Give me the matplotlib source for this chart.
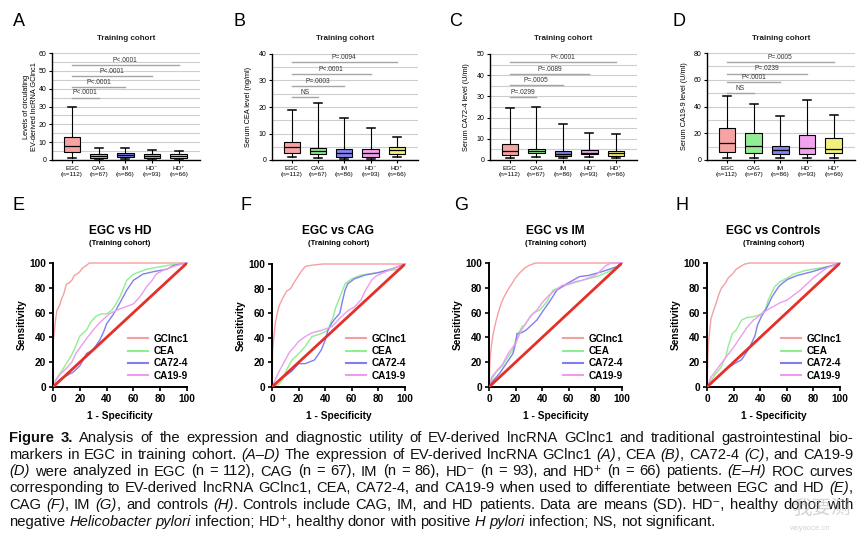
import matplotlib.pyplot as plt
import numpy as np

plt.rcParams['font.family'] = ['Liberation Sans', 'DejaVu Sans']

W, H = 866, 537
fig = plt.figure(figsize=(W / 100, H / 100), dpi=100)

# ---------------- data ----------------
groups = ['EGC\n(n=112)', 'CAG\n(n=67)', 'IM\n(n=86)', 'HD⁻\n(n=93)', 'HD⁺\n(n=66)']
box_colors = ['#f5a3a3', '#93ee93', '#8282f0', '#f2a2ee', '#f0f07e']

# whisker low, Q1, median, Q3, whisker high
gclnc1_box = [[0.9, 4.7, 8.1, 13.1, 29.5],
              [0.5, 1.4, 2.5, 3.4, 7.0],
              [0.6, 1.6, 2.6, 3.8, 6.6],
              [0.5, 1.3, 2.3, 3.5, 5.6],
              [0.5, 1.1, 2.0, 3.2, 5.3]]
cea_box = [[1.3, 2.8, 5.0, 6.7, 18.9],
           [0.6, 2.3, 3.5, 4.4, 21.4],
           [0.3, 1.3, 2.8, 4.0, 15.8],
           [0.4, 1.3, 2.8, 4.2, 12.2],
           [1.3, 2.3, 3.8, 4.8, 8.8]]
ca724_box = [[0.8, 2.4, 4.4, 7.5, 24.4],
             [1.3, 3.1, 4.2, 5.2, 25.2],
             [0.8, 2.0, 2.8, 4.4, 17.0],
             [1.3, 2.7, 3.5, 4.7, 12.9],
             [0.8, 2.0, 3.1, 4.4, 12.3]]
ca199_box = [[1.3, 6.3, 12.5, 24.0, 48.0],
             [1.3, 5.0, 10.5, 20.5, 42.0],
             [1.3, 4.5, 7.5, 10.5, 33.0],
             [1.3, 4.5, 9.3, 19.0, 44.5],
             [1.3, 5.0, 8.0, 16.5, 34.0]]

# (label, compared group index, bar height)
gclnc1_sig = [('P<.0001', 1, 35), ('P<.0001', 2, 41), ('P<.0001', 3, 47), ('P<.0001', 4, 53)]
cea_sig = [('NS', 1, 23.8), ('P=.0003', 2, 28), ('P<.0001', 3, 32.3), ('P=.0094', 4, 36.8)]
ca724_sig = [('P=.0299', 1, 29.5), ('P=.0005', 2, 35.4), ('P=.0089', 3, 40.6), ('P<.0001', 4, 46)]
ca199_sig = [('NS', 1, 50), ('P<.0001', 2, 58), ('P=.0239', 3, 64.5), ('P=.0005', 4, 73)]

roc_names = ['GClnc1', 'CEA', 'CA72-4', 'CA19-9']
roc_colors = ['#f5a0a0', '#90ee90', '#7f7ff2', '#ee9cee']

# ROC curves: 1 - specificity (%), sensitivity (%)
hd_gclnc1_x = [0, 0, 1, 2, 3, 5, 6, 8, 10, 12, 14, 16, 19, 20, 22, 25, 27, 100]
hd_gclnc1_y = [0, 35, 45, 55, 62, 66, 70, 75, 83, 84, 86, 90, 92, 93, 96, 98, 100, 100]
hd_cea_x = [0, 2, 6, 10, 14, 17, 20, 25, 28, 32, 36, 40, 44, 47, 50, 52, 55, 60, 65, 70, 85, 100]
hd_cea_y = [0, 6, 12, 19, 26, 33, 41, 46, 52, 57, 59, 59, 62, 67, 73, 78, 86, 91, 93, 95, 98, 100]
hd_ca724_x = [0, 5, 10, 15, 20, 25, 30, 35, 38, 40, 44, 47, 51, 55, 60, 67, 75, 85, 90, 100]
hd_ca724_y = [0, 6, 9, 12, 17, 27, 30, 38, 45, 51, 57, 62, 70, 78, 86, 91, 93, 95, 98, 100]
hd_ca199_x = [0, 2, 5, 10, 14, 17, 21, 25, 30, 35, 42, 50, 60, 65, 70, 74, 77, 82, 87, 92, 100]
hd_ca199_y = [0, 5, 10, 15, 20, 27, 33, 39, 46, 52, 59, 63, 67, 73, 81, 86, 91, 94, 96, 98, 100]

cag_gclnc1_x = [0, 0.5, 1.5, 2.5, 4, 5, 7.5, 9, 11, 14, 16, 19, 22, 25, 30, 38, 100]
cag_gclnc1_y = [0, 30, 42, 52, 60, 65, 71, 74, 78, 80, 84, 89, 94, 98, 99, 100, 100]
cag_cea_x = [0, 5, 8, 11, 15, 20, 25, 30, 36, 42, 44, 46, 48, 51, 55, 60, 67, 80, 90, 97, 100]
cag_cea_y = [0, 2, 6, 14, 22, 27, 33, 41, 43, 46, 52, 57, 65, 73, 84, 88, 91, 93, 95, 96, 100]
cag_ca724_x = [0, 5, 10, 15, 20, 25, 32, 37, 40, 42, 45, 47, 51, 53, 55, 57, 62, 70, 80, 90, 100]
cag_ca724_y = [0, 5, 9, 13, 19, 19, 22, 30, 38, 46, 52, 55, 60, 70, 79, 84, 88, 91, 93, 96, 100]
cag_ca199_x = [0, 5, 10, 13, 17, 20, 25, 30, 37, 45, 52, 57, 62, 67, 70, 75, 78, 82, 88, 100]
cag_ca199_y = [0, 12, 22, 28, 33, 37, 41, 44, 46, 49, 57, 62, 65, 71, 78, 87, 90, 92, 95, 100]

im_gclnc1_x = [0, 0.5, 1, 2, 3, 5, 7, 9, 11, 14, 17, 20, 23, 27, 30, 35, 100]
im_gclnc1_y = [0, 15, 25, 35, 42, 52, 60, 67, 72, 78, 83, 88, 92, 96, 98, 100, 100]
im_cea_x = [0, 3, 6, 10, 14, 18, 20, 23, 25, 27, 31, 34, 38, 43, 48, 55, 61, 70, 81, 90, 96, 100]
im_cea_y = [0, 8, 13, 17, 24, 30, 38, 45, 49, 50, 57, 60, 62, 68, 78, 81, 83, 86, 89, 93, 97, 100]
im_ca724_x = [0, 3, 8, 13, 18, 20, 21, 25, 28, 32, 36, 41, 45, 51, 58, 63, 68, 75, 85, 96, 100]
im_ca724_y = [0, 5, 11, 19, 27, 35, 43, 44, 46, 50, 54, 62, 68, 78, 83, 86, 89, 90, 93, 97, 100]
im_ca199_x = [0, 2, 5, 10, 15, 20, 24, 28, 32, 36, 40, 45, 50, 55, 60, 65, 70, 75, 80, 85, 88, 92, 100]
im_ca199_y = [0, 8, 12, 18, 28, 35, 45, 52, 58, 62, 68, 74, 78, 82, 83, 85, 86, 88, 90, 95, 98, 100, 100]

ctl_gclnc1_x = [0, 0.5, 1, 2, 3, 5, 7, 9, 11, 14, 16, 19, 22, 25, 28, 32, 100]
ctl_gclnc1_y = [0, 20, 35, 45, 55, 62, 68, 75, 80, 84, 88, 91, 95, 97, 99, 100, 100]
ctl_cea_x = [0, 3, 6, 10, 14, 16, 19, 22, 26, 30, 36, 41, 44, 46, 49, 51, 55, 59, 65, 74, 85, 96, 100]
ctl_cea_y = [0, 5, 10, 15, 24, 33, 43, 46, 54, 56, 57, 59, 63, 70, 77, 81, 85, 87, 91, 94, 96, 98, 100]
ctl_ca724_x = [0, 5, 10, 15, 21, 26, 31, 36, 38, 41, 45, 49, 54, 57, 61, 68, 79, 88, 100]
ctl_ca724_y = [0, 5, 10, 15, 19, 22, 30, 41, 50, 57, 64, 73, 81, 84, 87, 90, 93, 96, 100]
ctl_ca199_x = [0, 3, 6, 10, 15, 20, 25, 30, 35, 40, 45, 50, 55, 60, 65, 70, 75, 80, 85, 90, 95, 100]
ctl_ca199_y = [0, 8, 12, 18, 25, 32, 40, 48, 54, 58, 62, 65, 68, 70, 74, 78, 83, 88, 92, 96, 98, 100]

caption = [
    [('Figure 3.', 'b'), (' Analysis of the expression and diagnostic utility of EV-derived lncRNA GClnc1 and traditional gastrointestinal bio-', 'n')],
    [('markers in EGC in training cohort. ', 'n'), ('(A–D)', 'i'), (' The expression of EV-derived lncRNA GClnc1 ', 'n'),
     ('(A)', 'i'), (', CEA ', 'n'), ('(B)', 'i'), (', CA72-4 ', 'n'), ('(C)', 'i'), (', and CA19-9', 'n')],
    [('(D)', 'i'), (' were analyzed in EGC (n = 112), CAG (n = 67), IM (n = 86), HD⁻ (n = 93), and HD⁺ (n = 66) patients. ', 'n'),
     ('(E–H)', 'i'), (' ROC curves', 'n')],
    [('corresponding to EV-derived lncRNA GClnc1, CEA, CA72-4, and CA19-9 when used to differentiate between EGC and HD ', 'n'),
     ('(E)', 'i'), (',', 'n')],
    [('CAG ', 'n'), ('(F)', 'i'), (', IM ', 'n'), ('(G)', 'i'), (', and controls ', 'n'), ('(H)', 'i'),
     ('. Controls include CAG, IM, and HD patients. Data are means (SD). HD⁻, healthy donor with', 'n')],
    [('negative ', 'n'), ('Helicobacter pylori', 'i'), (' infection; HD⁺, healthy donor with positive ', 'n'),
     ('H pylori', 'i'), (' infection; NS, not significant.', 'n')],
]


# ---------------- helpers ----------------
def px_axes(x0, y0, x1, y1):
    return fig.add_axes([x0 / W, 1 - y1 / H, (x1 - x0) / W, (y1 - y0) / H])


def ftext(x, y, s, **kw):
    return fig.text(x / W, 1 - y / H, s, **kw)


def box_panel(rect, stats, ymax, ytick, grid, ylabel, sigs, letter, lpos, ylab_x):
    ax = px_axes(*rect)
    for g in np.arange(grid, ymax + 0.01, grid):
        ax.axhline(g, color='#cdcdcd', lw=0.8, zorder=0)
    st = [dict(whislo=s[0], q1=s[1], med=s[2], q3=s[3], whishi=s[4], fliers=[]) for s in stats]
    bp = ax.bxp(st, positions=range(5), widths=0.62, patch_artist=True, showfliers=False,
                boxprops=dict(edgecolor='black', linewidth=0.8),
                medianprops=dict(color='black', linewidth=0.9),
                whiskerprops=dict(color='black', linewidth=0.8),
                capprops=dict(color='black', linewidth=1.1))
    for patch, c in zip(bp['boxes'], box_colors):
        patch.set_facecolor(c)
    for lab, j, h in sigs:
        ax.plot([0, j], [h, h], color='#a5a5a5', lw=1.0, zorder=1)
        ax.text(j / 2, h + ymax * 0.012, lab, ha='center', va='bottom', fontsize=4.8, color='#333333')
    ax.set_xlim(-0.75, 4.8)
    ax.set_ylim(0, ymax)
    ax.set_yticks(np.arange(0, ymax + 0.01, ytick))
    ax.set_xticks(range(5))
    ax.set_xticklabels(groups, fontsize=4.6, linespacing=1.3)
    ax.tick_params(axis='y', labelsize=5, length=2.5, width=0.8, pad=1.5)
    ax.tick_params(axis='x', length=2.5, width=0.8, pad=1.5)
    for side in ['top', 'right']:
        ax.spines[side].set_visible(False)
    for side in ['left', 'bottom']:
        ax.spines[side].set_linewidth(1.0)
    cx = (rect[0] + rect[2]) / 2
    ftext(cx, 39, 'Training cohort', ha='center', va='center', fontsize=5.8, fontweight='bold', color='#222222')
    ftext(ylab_x, (rect[1] + rect[3]) / 2, ylabel, ha='center', va='center', rotation=90,
          fontsize=5.3, linespacing=1.2)
    ftext(lpos[0], lpos[1], letter, ha='center', va='center', fontsize=13)
    return ax


def roc_panel(rect, curves, title, letter, lpos):
    ax = px_axes(*rect)
    for (x, y), c, lab in zip(curves, roc_colors, roc_names):
        ax.plot(x, y, color=c, lw=1.0, label=lab, zorder=2, clip_on=False)
    ax.plot([0, 100], [0, 100], color='#e5302a', lw=2.0, zorder=3)
    ax.set_xlim(0, 100)
    ax.set_ylim(0, 100)
    ax.set_xticks(range(0, 101, 20))
    ax.set_yticks(range(0, 101, 20))
    ax.tick_params(labelsize=7.3, length=3, width=1.2, pad=2)
    for t in ax.get_xticklabels() + ax.get_yticklabels():
        t.set_fontweight('bold')
    for side in ['top', 'right']:
        ax.spines[side].set_visible(False)
    for side in ['left', 'bottom']:
        ax.spines[side].set_linewidth(1.4)
    leg = ax.legend(loc='lower right', bbox_to_anchor=(1.04, 0.02), frameon=False,
                    handlelength=2.0, handletextpad=0.5, labelspacing=0.22, borderaxespad=0,
                    prop={'weight': 'bold', 'size': 7.2})
    for l in leg.get_lines():
        l.set_linewidth(1.5)
    cx = (rect[0] + rect[2]) / 2
    cy = (rect[1] + rect[3]) / 2
    ftext(cx, 231, title, ha='center', va='center', fontsize=8.6, fontweight='bold')
    ftext(cx, 243.5, '(Training cohort)', ha='center', va='center', fontsize=5.6, fontweight='bold')
    ftext(cx, 416, '1 - Specificity', ha='center', va='center', fontsize=7.3, fontweight='bold')
    ftext(rect[0] - 31, cy, 'Sensitivity', ha='center', va='center', rotation=90, fontsize=7.3, fontweight='bold')
    ftext(lpos[0], lpos[1], letter, ha='center', va='center', fontsize=13)
    return ax


# ---------------- top row: box plots ----------------
box_panel((52, 53, 200, 160), gclnc1_box, 60, 10, 5,
          'Levels of circulating\nEV-derived lncRNA GClnc1', gclnc1_sig, 'A', (19, 21), 31)
box_panel((272, 54, 418, 160), cea_box, 40, 10, 5,
          'Serum CEA level (ng/ml)', cea_sig, 'B', (240, 21), 249)
box_panel((490, 54, 637, 160), ca724_box, 50, 10, 5,
          'Serum CA72-4 level (U/ml)', ca724_sig, 'C', (456, 21), 467)
box_panel((707, 53, 855, 160), ca199_box, 80, 20, 10,
          'Serum CA19-9 level (U/ml)', ca199_sig, 'D', (679, 21), 684)

# ---------------- bottom row: ROC ----------------
roc_panel((53, 263, 187, 387),
          [(hd_gclnc1_x, hd_gclnc1_y), (hd_cea_x, hd_cea_y), (hd_ca724_x, hd_ca724_y), (hd_ca199_x, hd_ca199_y)],
          'EGC vs HD', 'E', (18, 205))
roc_panel((272, 264, 405, 387),
          [(cag_gclnc1_x, cag_gclnc1_y), (cag_cea_x, cag_cea_y), (cag_ca724_x, cag_ca724_y), (cag_ca199_x, cag_ca199_y)],
          'EGC vs CAG', 'F', (246, 205))
roc_panel((489, 263, 622, 387),
          [(im_gclnc1_x, im_gclnc1_y), (im_cea_x, im_cea_y), (im_ca724_x, im_ca724_y), (im_ca199_x, im_ca199_y)],
          'EGC vs IM', 'G', (461, 205))
roc_panel((707, 263, 840, 387),
          [(ctl_gclnc1_x, ctl_gclnc1_y), (ctl_cea_x, ctl_cea_y), (ctl_ca724_x, ctl_ca724_y), (ctl_ca199_x, ctl_ca199_y)],
          'EGC vs Controls', 'H', (682, 205))

# ---------------- caption (justified) ----------------
renderer = fig.canvas.get_renderer()
style_kw = {'n': {}, 'b': {'fontweight': 'bold'}, 'i': {'fontstyle': 'italic'}}
left, right = 9, 853
baselines = [441.7 + 16.9 * k for k in range(len(caption))]


def measure(s, st, size):
    t = fig.text(0, 0, s, fontsize=size, **style_kw[st])
    w = t.get_window_extent(renderer).width
    t.remove()
    return w


def split_words(line):
    words = [[]]
    for txt, st in line:
        for m, part in enumerate(txt.split(' ')):
            if m > 0:
                words.append([])
            if part:
                words[-1].append((part, st))
    return [w for w in words if w]


def natural_width(words, size):
    sp = measure('a a', 'n', size) - measure('aa', 'n', size)
    return sum(measure(p, st, size) for w in words for p, st in w) + sp * (len(words) - 1)


all_words = [split_words(line) for line in caption]
ref_size = 10
widest = max(natural_width(w, ref_size) for w in all_words[:-1])
cap_size = min(11.2, ref_size * (right - left) / widest * 0.985)
space_w = measure('a a', 'n', cap_size) - measure('aa', 'n', cap_size)

for k, words in enumerate(all_words):
    widths = [[measure(p, st, cap_size) for p, st in w] for w in words]
    total = sum(sum(w) for w in widths)
    if k < len(all_words) - 1:
        gap = (right - left - total) / (len(words) - 1)
    else:
        gap = space_w
    x = left
    for w, ws in zip(words, widths):
        for (p, st), pw in zip(w, ws):
            ftext(x, baselines[k], p, ha='left', va='baseline', fontsize=cap_size, color='#111111', **style_kw[st])
            x += pw
        x += gap

# watermark
ftext(821, 508, '我要测', ha='center', va='center', fontsize=14, color='#a8a8a8', alpha=0.5,
      family=['Noto Sans CJK SC', 'DejaVu Sans'])
ftext(809, 529, 'woyaoce.cn', ha='center', va='center', fontsize=5.5, color='#a8a8a8', alpha=0.5)

fig.savefig('out.png', dpi=100)
